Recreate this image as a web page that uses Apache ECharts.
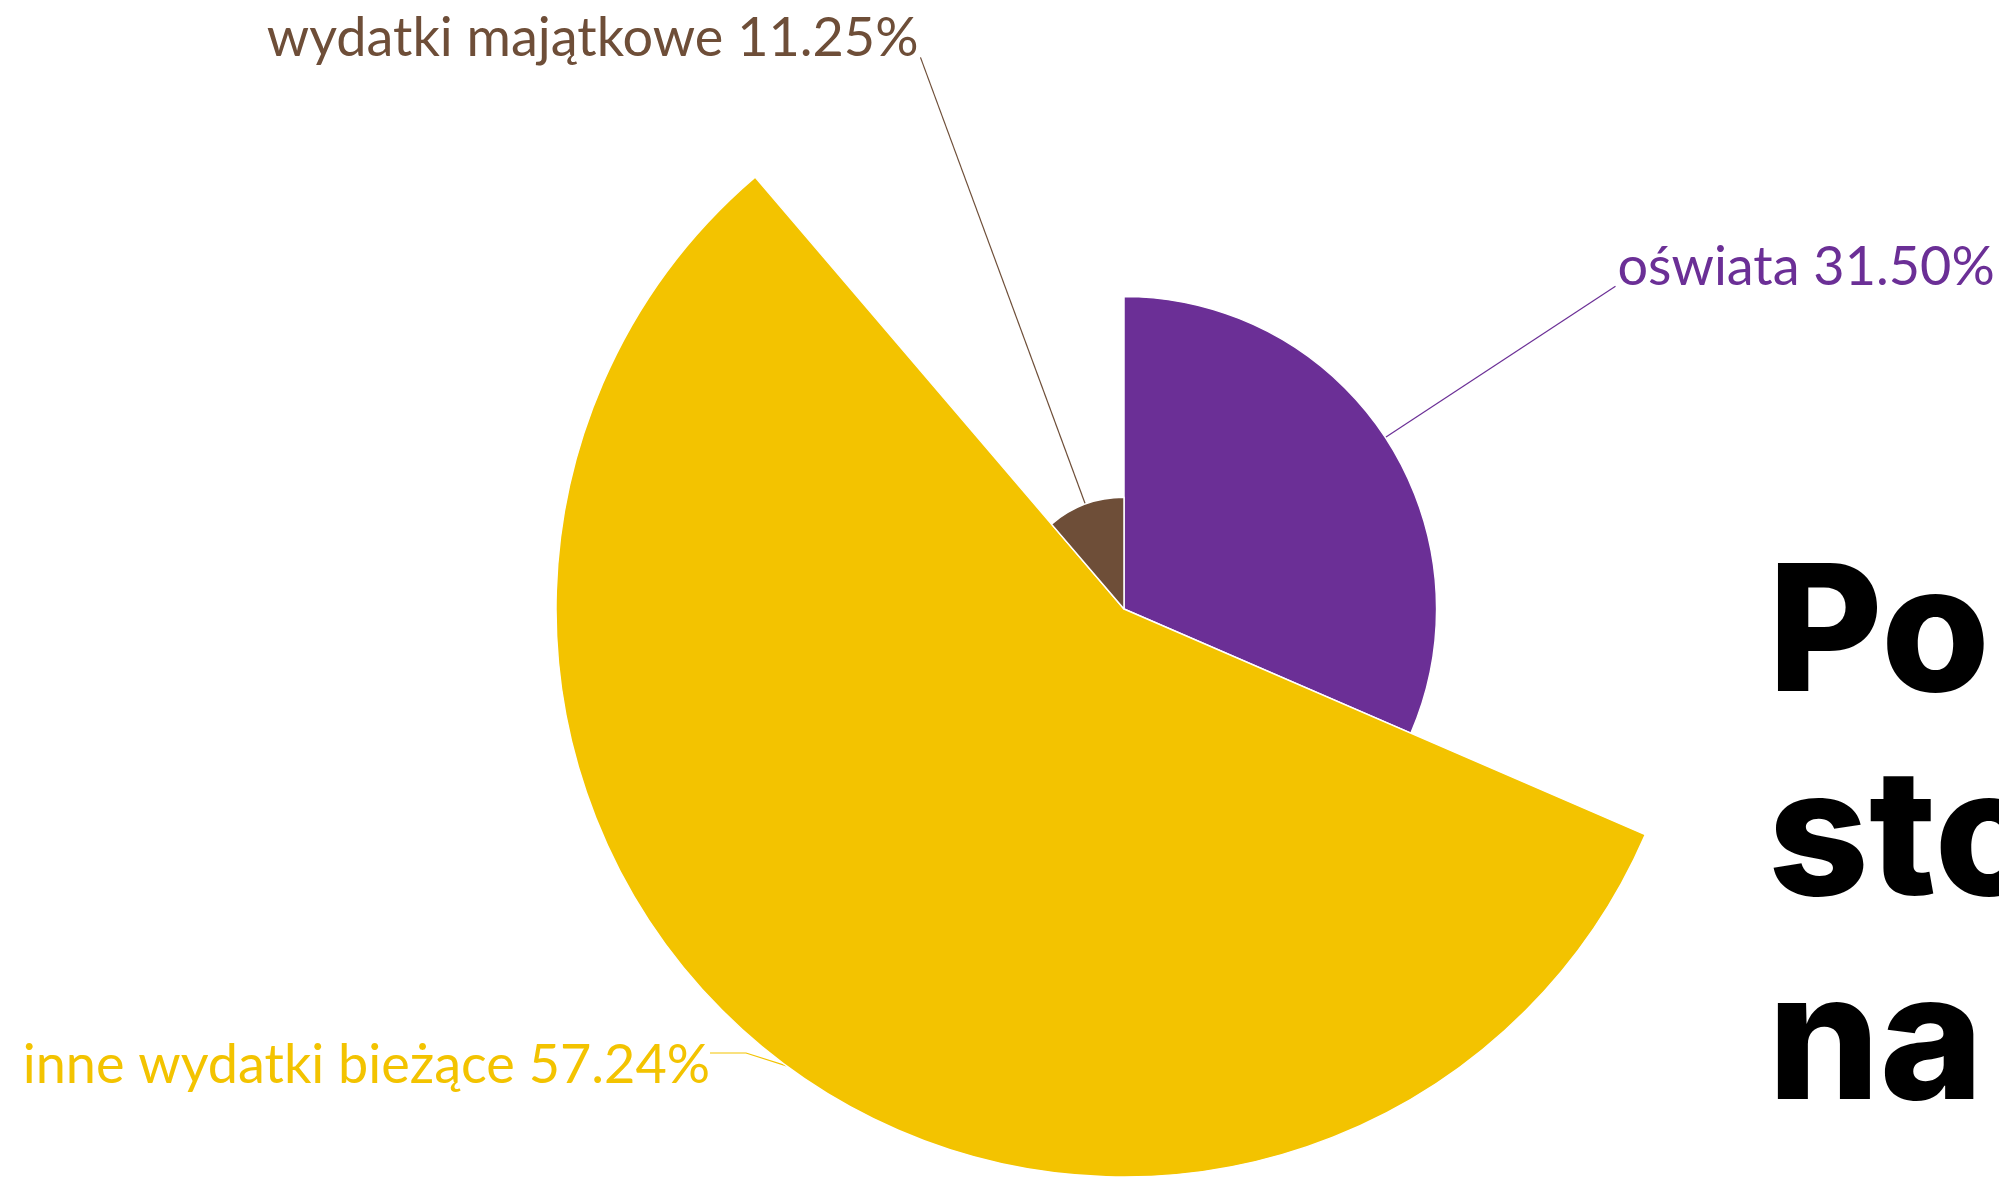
<!DOCTYPE html>
<html>
<head>
<meta charset="utf-8">
<script src="https://cdn.jsdelivr.net/npm/echarts@6/dist/echarts.min.js"></script>
<style>
  html, body { margin: 0; padding: 0; background: #fff; }
  #main { width: 1999px; height: 1178px; }
</style>
</head>
<body>
<div id="main"></div>
<script>
// udział wydatków w budżecie (%)
var categories = ['oświata', 'inne wydatki bieżące', 'wydatki majątkowe'];
var values = [31.50, 57.24, 11.25];
var colors = ['#6b2f96', '#f3c300', '#6e4e38'];

var headingLines = ['Porównanie', 'stołecznego', 'na'];

var data = categories.map(function (name, i) {
  return {
    name: name,
    value: values[i],
    itemStyle: { color: colors[i] },
    label: { color: colors[i], lineHeight: i === 1 ? 26 : 38 },
    labelLine: { length2: i === 1 ? 36 : 0, lineStyle: { color: colors[i] } }
  };
});

var option = {
  backgroundColor: '#fff',
  animation: false,
  graphic: headingLines.map(function (t, i) {
    return {
      type: 'text',
      left: 1768,
      top: 550 + i * 204,
      style: {
        text: t,
        font: '800 176px Inter',
        fill: '#000'
      }
    };
  }),
  series: [{
    type: 'pie',
    roseType: 'radius',
    center: [1124, 609],
    radius: [0, 568],
    startAngle: 90,
    clockwise: true,
    avoidLabelOverlap: false,
    itemStyle: { borderColor: '#fff', borderWidth: 1.5 },
    label: {
      show: true,
      position: 'outside',
      fontFamily: 'Lato',
      fontSize: 54,
      width: 800,
      distanceToLabelLine: 2,
      // pusta linia przesuwa tekst względem końca linii odniesienia
      formatter: function (p) {
        var txt = p.name + ' ' + p.value.toFixed(2) + '%';
        return p.dataIndex === 1 ? '\n' + txt : txt + '\n';
      }
    },
    labelLine: { show: true, smooth: false, length: 20, lineStyle: { width: 1.2 } },
    labelLayout: function (p) {
      if (p.dataIndex === 1) {
        return { x: 710, y: 1053, align: 'right', verticalAlign: 'middle' };
      }
    },
    data: data
  }]
};

var myChart = echarts.init(document.getElementById('main'));
myChart.setOption(option);
</script>
</body>
</html>
